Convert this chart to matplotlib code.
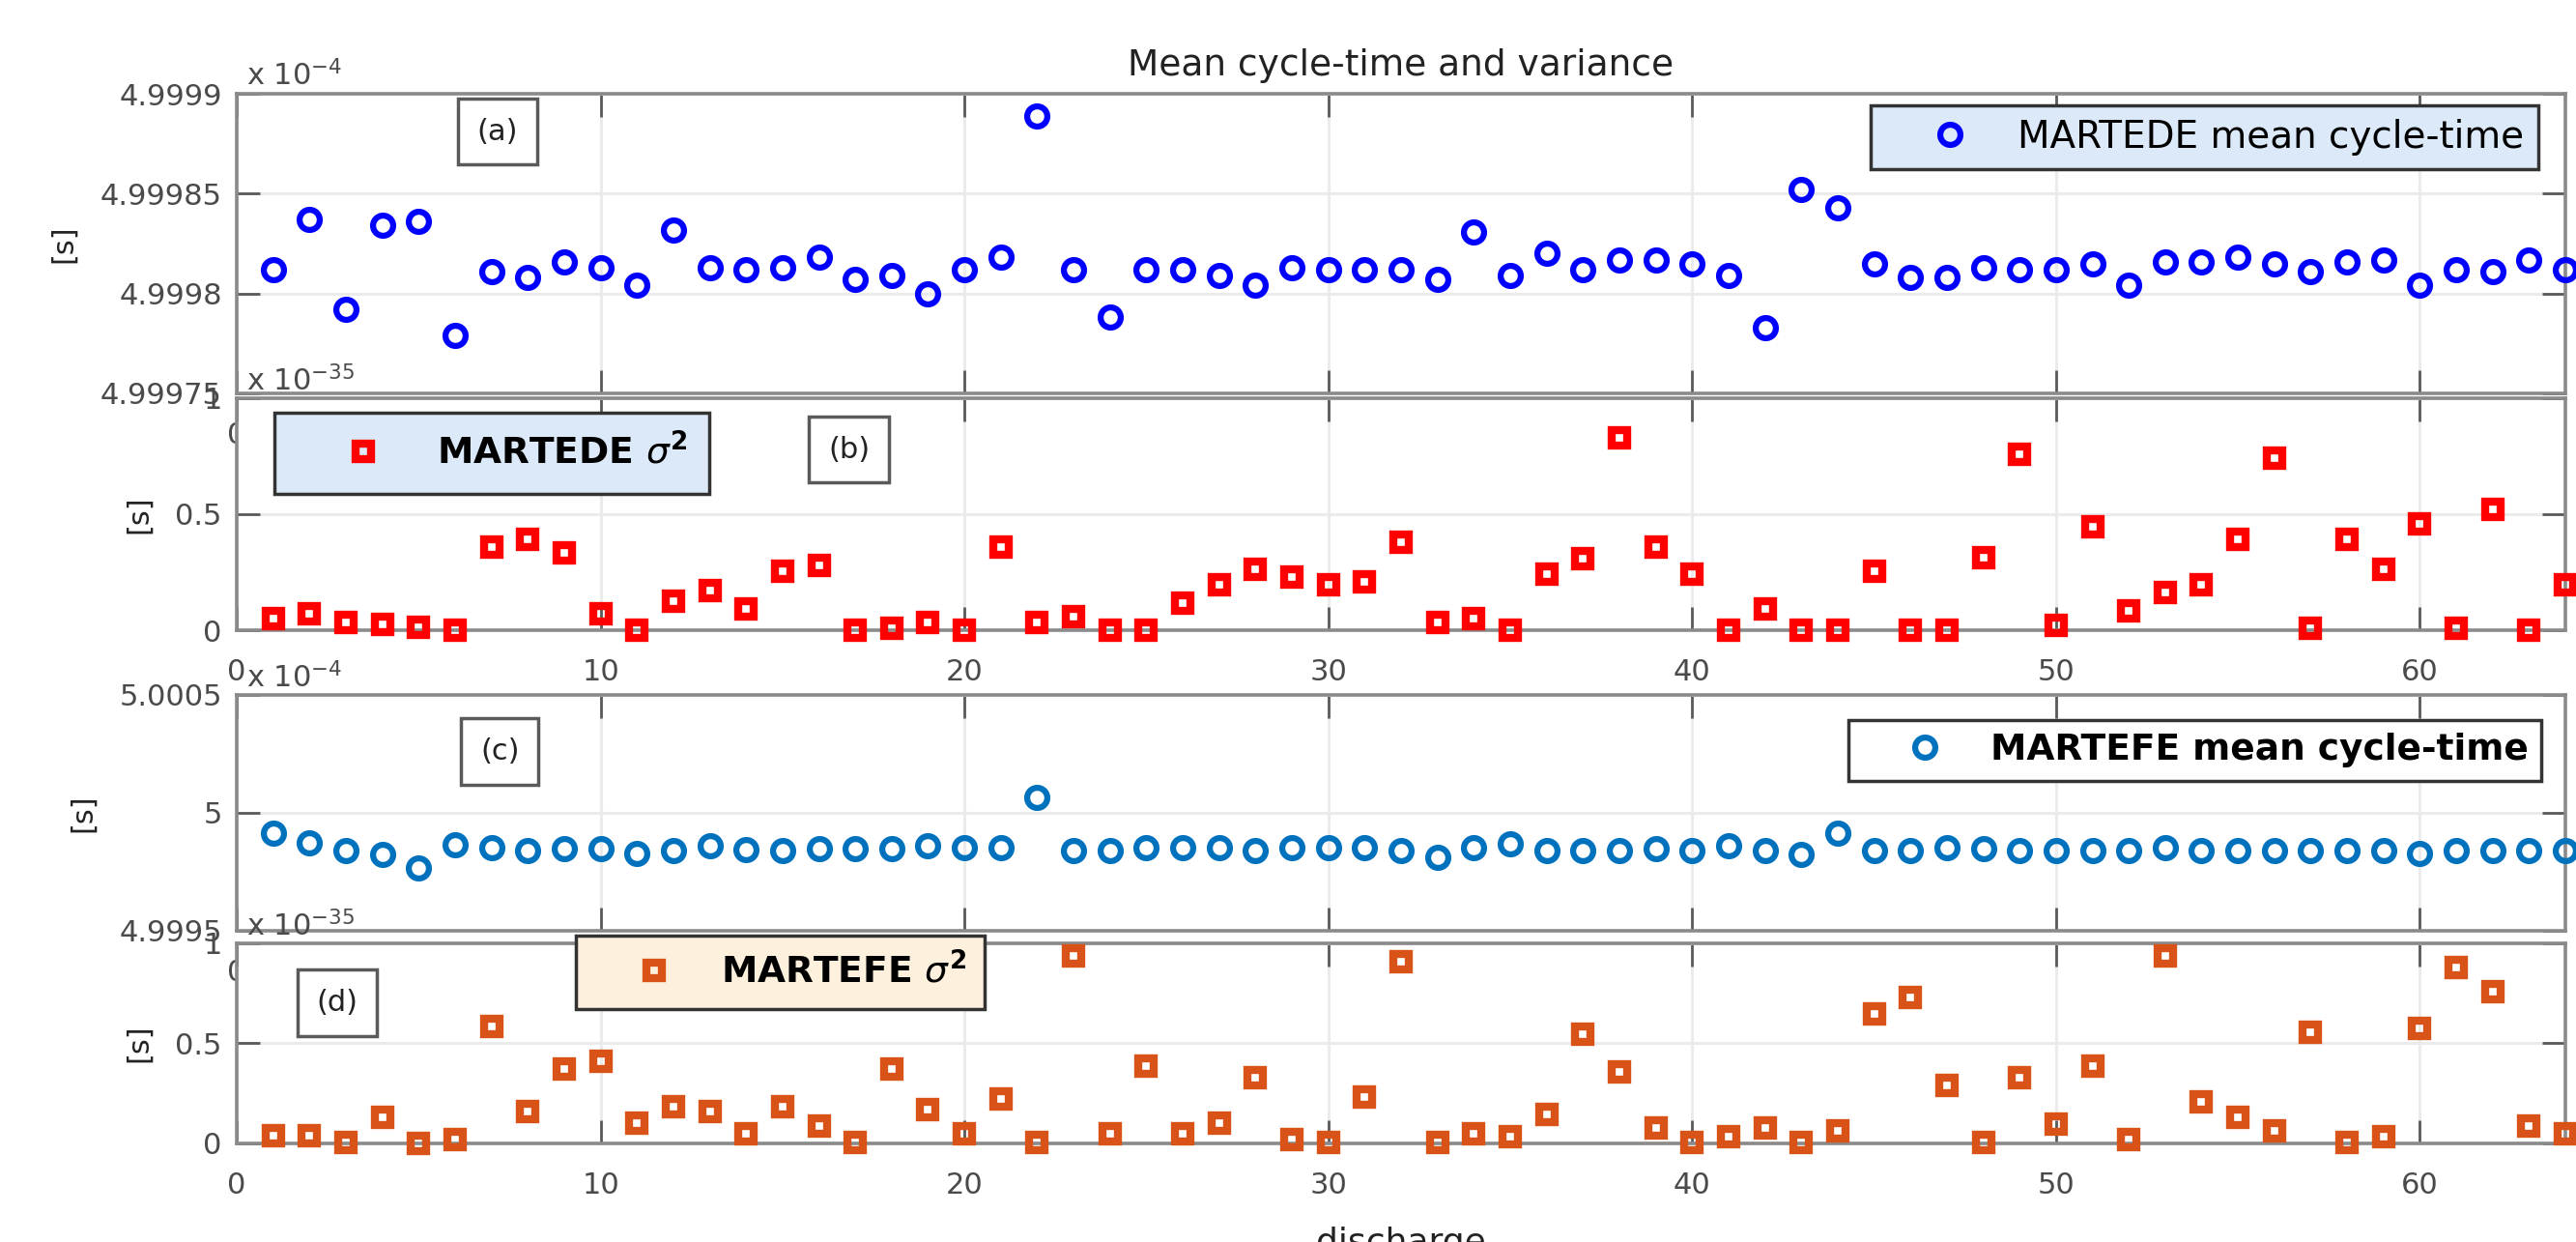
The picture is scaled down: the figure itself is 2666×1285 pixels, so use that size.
import matplotlib
matplotlib.use('Agg')
import matplotlib.pyplot as plt

plt.rcParams['font.family'] = ['DejaVu Sans']
plt.rcParams['mathtext.fontset'] = 'dejavusans'

# ---------------- data ----------------
discharge = list(range(1, 65))

# MARTEDE mean cycle-time  [x 1e-4 s]
martede_mean = [4.999812, 4.999837, 4.999792, 4.999834, 4.999836, 4.999779, 4.999811, 4.999808,
                4.999816, 4.999813, 4.999804, 4.999832, 4.999813, 4.999812, 4.999813, 4.999818,
                4.999807, 4.999809, 4.999800, 4.999812, 4.999818, 4.999889, 4.999812, 4.999788,
                4.999812, 4.999812, 4.999809, 4.999804, 4.999813, 4.999812, 4.999812, 4.999812,
                4.999807, 4.999831, 4.999809, 4.999820, 4.999812, 4.999817, 4.999817, 4.999815,
                4.999809, 4.999783, 4.999852, 4.999843, 4.999815, 4.999808, 4.999808, 4.999813,
                4.999812, 4.999812, 4.999815, 4.999804, 4.999816, 4.999816, 4.999818, 4.999815,
                4.999811, 4.999816, 4.999817, 4.999804, 4.999812, 4.999811, 4.999817, 4.999812]

# MARTEDE variance  [x 1e-35]
martede_var = [0.049, 0.069, 0.035, 0.025, 0.014, 0.0, 0.358, 0.392, 0.333, 0.069,
               0.0, 0.125, 0.171, 0.09, 0.253, 0.278, 0.0, 0.01, 0.035, 0.0,
               0.358, 0.032, 0.06, 0.0, 0.0, 0.115, 0.194, 0.264, 0.229, 0.194,
               0.208, 0.379, 0.032, 0.049, 0.0, 0.243, 0.31, 0.829, 0.358, 0.243,
               0.0, 0.093, 0.0, 0.0, 0.253, 0.0, 0.0, 0.313, 0.757, 0.021,
               0.447, 0.083, 0.163, 0.194, 0.392, 0.743, 0.01, 0.392, 0.264, 0.458,
               0.01, 0.521, 0.0, 0.194]

# MARTEFE mean cycle-time  [x 1e-4 s]
martefe_mean = [4.999914, 4.999873, 4.999839, 4.999825, 4.999766, 4.999866, 4.999852, 4.999839,
                4.999850, 4.999850, 4.999828, 4.999842, 4.999862, 4.999846, 4.999839, 4.999850,
                4.999850, 4.999850, 4.999859, 4.999852, 4.999852, 5.000066, 4.999839, 4.999839,
                4.999852, 4.999852, 4.999852, 4.999839, 4.999852, 4.999852, 4.999852, 4.999839,
                4.999811, 4.999852, 4.999869, 4.999839, 4.999839, 4.999839, 4.999850, 4.999839,
                4.999859, 4.999839, 4.999825, 4.999914, 4.999839, 4.999839, 4.999852, 4.999850,
                4.999839, 4.999839, 4.999839, 4.999839, 4.999852, 4.999839, 4.999839, 4.999839,
                4.999839, 4.999839, 4.999839, 4.999828, 4.999839, 4.999839, 4.999839, 4.999839]

# MARTEFE variance  [x 1e-35]
martefe_var = [0.037, 0.037, 0.005, 0.13, 0.0, 0.021, 0.584, 0.159, 0.37, 0.411,
               0.102, 0.183, 0.159, 0.049, 0.183, 0.089, 0.005, 0.37, 0.167, 0.049,
               0.224, 0.005, 0.935, 0.049, 0.386, 0.049, 0.102, 0.33, 0.021, 0.005,
               0.232, 0.909, 0.005, 0.049, 0.032, 0.143, 0.545, 0.357, 0.075, 0.005,
               0.032, 0.075, 0.005, 0.062, 0.649, 0.731, 0.289, 0.005, 0.33, 0.097,
               0.386, 0.021, 0.935, 0.208, 0.13, 0.062, 0.557, 0.005, 0.032, 0.573,
               0.881, 0.76, 0.086, 0.049]

x_ticks = [0, 10, 20, 30, 40, 50, 60]
a_yticks = [4.99975, 4.9998, 4.99985, 4.9999]
a_yticklabels = ['4.99975', '4.9998', '4.99985', '4.9999']
b_yticks = [0, 0.5, 1]
b_yticklabels = ['0', '0.5', '1']
c_yticks = [4.9995, 5.0, 5.0005]
c_yticklabels = ['4.9995', '5', '5.0005']
d_yticks = [0, 0.5, 1]
d_yticklabels = ['0', '0.5', '1']

# ---------------- figure ----------------
fig = plt.figure(figsize=(26.66, 12.85), dpi=100)
L, W = 0.0919, 0.904
ax_a = fig.add_axes([L, 0.6833, W, 0.2412])
ax_b = fig.add_axes([L, 0.4926, W, 0.1868])
ax_c = fig.add_axes([L, 0.2506, W, 0.1899])
ax_d = fig.add_axes([L, 0.0794, W, 0.1611])

TICK_FS = 22
spine_col = '#8a8a8a'

def style(ax, yticks, ylabels, ylim):
    ax.set_xlim(0, 64)
    ax.set_ylim(*ylim)
    ax.set_xticks(x_ticks)
    ax.set_xticklabels([str(t) for t in x_ticks])
    ax.set_yticks(yticks)
    ax.set_yticklabels(ylabels)
    ax.grid(True, color='#ebebeb', lw=2.2, zorder=0)
    ax.set_axisbelow(True)
    ax.tick_params(direction='in', top=True, right=True, length=17, width=2.0,
                   color='#5a5a5a', labelsize=TICK_FS, labelcolor='#4a4a4a')
    ax.tick_params(axis='x', pad=21)
    ax.tick_params(axis='y', pad=11)
    for s in ax.spines.values():
        s.set_color(spine_col)
        s.set_linewidth(2.6)
    ax.set_ylabel('[s]', fontsize=22, color='#222222', labelpad=17)

def offset_text(ax, txt):
    ax.text(0.004, 1.008, txt, transform=ax.transAxes, ha='left', va='bottom',
            fontsize=TICK_FS, color='#4a4a4a', clip_on=False)

def label_box(ax, x, y, txt):
    ax.text(x, y, txt, transform=ax.transAxes, ha='center', va='center', fontsize=22,
            color='#222222', zorder=5,
            bbox=dict(boxstyle='square,pad=0.65', fc='white', ec='#5a5a5a', lw=2.5))

circ_kw = dict(ls='none', marker='o', mfc='none', ms=15, mew=4.5, clip_on=False, zorder=3)
sq_kw = dict(ls='none', marker='s', mfc='none', ms=11.5, mew=6, clip_on=False, zorder=3)

# (a)
ax_a.plot(discharge, martede_mean, mec=(0, 0, 1), label='MARTEDE mean cycle-time', **circ_kw)
style(ax_a, a_yticks, a_yticklabels, (4.99975, 4.9999))
offset_text(ax_a, r'x 10$^{-4}$')
ax_a.set_title('Mean cycle-time and variance', fontsize=27, pad=14, color='#222222')
label_box(ax_a, 0.112, 0.874, '(a)')
leg = ax_a.legend(loc='center', bbox_to_anchor=(0.845, 0.855), prop={'size': 28},
                  handlelength=3.5, handletextpad=0.05, borderpad=0.36, numpoints=1,
                  fancybox=False, facecolor='#dce9f8', edgecolor='#333333', framealpha=1)
leg.get_frame().set_linewidth(2.5)
leg.set_zorder(6)

# (b)
ax_b.plot(discharge, martede_var, mec=(1, 0, 0), label=r'MARTEDE $\sigma^{\mathbf{2}}$', **sq_kw)
style(ax_b, b_yticks, b_yticklabels, (0, 1))
offset_text(ax_b, r'x 10$^{-35}$')
label_box(ax_b, 0.263, 0.779, '(b)')
leg = ax_b.legend(loc='center', bbox_to_anchor=(0.1095, 0.7625),
                  prop={'size': 27, 'weight': 'bold'},
                  handlelength=3.7, handletextpad=0.19, borderpad=0.6, numpoints=1,
                  fancybox=False, facecolor='#dce9f8', edgecolor='#333333', framealpha=1)
leg.get_frame().set_linewidth(2.5)
leg.set_zorder(6)

# (c)
ax_c.plot(discharge, martefe_mean, mec='#0072BD', label='MARTEFE mean cycle-time', **circ_kw)
style(ax_c, c_yticks, c_yticklabels, (4.9995, 5.0005))
offset_text(ax_c, r'x 10$^{-4}$')
label_box(ax_c, 0.113, 0.760, '(c)')
leg = ax_c.legend(loc='center', bbox_to_anchor=(0.841, 0.766),
                  prop={'size': 27, 'weight': 'bold'},
                  handlelength=3.5, handletextpad=0.05, borderpad=0.36, numpoints=1,
                  fancybox=False, facecolor='white', edgecolor='#333333', framealpha=1)
leg.get_frame().set_linewidth(2.5)
leg.set_zorder(6)

# (d)
ax_d.plot(discharge, martefe_var, mec='#D95319', label=r'MARTEFE $\sigma^{\mathbf{2}}$', **sq_kw)
style(ax_d, d_yticks, d_yticklabels, (0, 1))
offset_text(ax_d, r'x 10$^{-35}$')
label_box(ax_d, 0.0432, 0.703, '(d)')
leg = ax_d.legend(loc='center', bbox_to_anchor=(0.2334, 0.855),
                  prop={'size': 27, 'weight': 'bold'},
                  handlelength=3.3, handletextpad=0.2, borderpad=0.5, numpoints=1,
                  fancybox=False, facecolor='#fdf0dc', edgecolor='#333333', framealpha=1)
leg.get_frame().set_linewidth(2.5)
leg.set_zorder(6)
ax_d.set_xlabel('discharge', fontsize=26, color='#222222', labelpad=20)

fig.savefig('out.png', dpi=100)
